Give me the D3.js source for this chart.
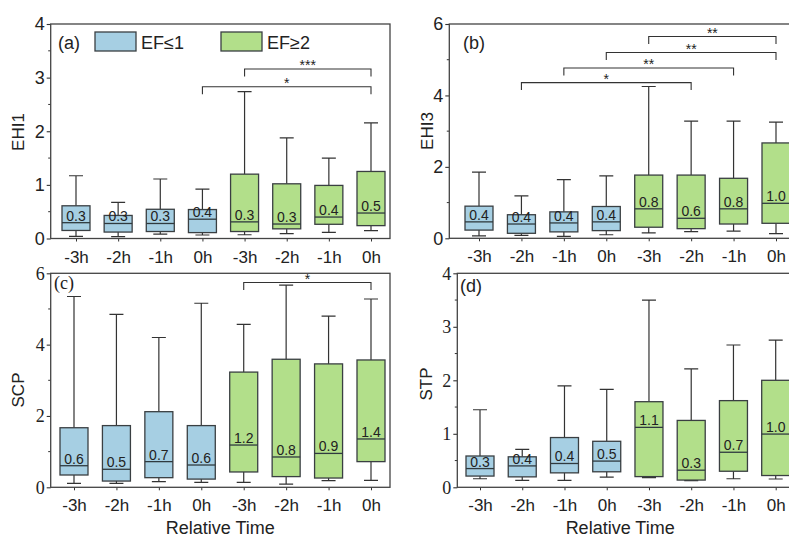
<!DOCTYPE html>
<html>
<head>
<meta charset="utf-8">
<script src="https://cdn.jsdelivr.net/npm/d3@7"></script>
<style>
  body { margin: 0; background: #fff; }
  svg { display: block; }
</style>
</head>
<body>
<svg id="chart"></svg>
<script>
// categories along the x axis, first four EF<=1, last four EF>=2
const categories = ["-3h", "-2h", "-1h", "0h", "-3h", "-2h", "-1h", "0h"];
const groupNames = ["EF≤1", "EF≥2"];
const groupOf = [0, 0, 0, 0, 1, 1, 1, 1];

// box stats per category: [low whisker, q1, median, q3, high whisker]
const ehi1Stats = [
  [0.04, 0.15, 0.295, 0.61, 1.17],
  [0.035, 0.12, 0.28, 0.43, 0.675],
  [0.08, 0.13, 0.28, 0.545, 1.11],
  [0.065, 0.11, 0.36, 0.54, 0.92],
  [0.07, 0.13, 0.31, 1.20, 2.74],
  [0.09, 0.18, 0.27, 1.02, 1.875],
  [0.115, 0.265, 0.40, 0.99, 1.50],
  [0.145, 0.24, 0.475, 1.25, 2.155]
];
const ehi1Labels = ["0.3", "0.3", "0.3", "0.4", "0.3", "0.3", "0.4", "0.5"];
// significance brackets: [from, to, level, mark]
const ehi1Sig = [[4, 7, 3.16, "***"], [3, 7, 2.83, "*"]];

const ehi3Stats = [
  [0.07, 0.23, 0.46, 0.90, 1.85],
  [0.08, 0.14, 0.40, 0.66, 1.19],
  [0.055, 0.18, 0.43, 0.74, 1.64],
  [0.10, 0.215, 0.46, 0.89, 1.75],
  [0.15, 0.31, 0.825, 1.77, 4.25],
  [0.185, 0.27, 0.56, 1.77, 3.28],
  [0.20, 0.40, 0.825, 1.68, 3.28],
  [0.13, 0.42, 0.98, 2.67, 3.25]
];
const ehi3Labels = ["0.4", "0.4", "0.4", "0.4", "0.8", "0.6", "0.8", "1.0"];
const ehi3Sig = [[4, 7, 5.65, "**"], [3, 7, 5.20, "**"], [2, 6, 4.77, "**"], [1, 5, 4.36, "*"]];

const scpStats = [
  [0.11, 0.345, 0.605, 1.67, 5.35],
  [0.11, 0.175, 0.505, 1.73, 4.85],
  [0.16, 0.27, 0.72, 2.12, 4.2],
  [0.14, 0.23, 0.625, 1.73, 5.16],
  [0.14, 0.43, 1.185, 3.23, 4.57],
  [0.09, 0.30, 0.85, 3.59, 5.67],
  [0.185, 0.26, 0.95, 3.46, 4.8],
  [0.195, 0.72, 1.355, 3.57, 5.28]
];
const scpLabels = ["0.6", "0.5", "0.7", "0.6", "1.2", "0.8", "0.9", "1.4"];
const scpSig = [[4, 7, 5.74, "*"]];

const stpStats = [
  [0.16, 0.21, 0.35, 0.585, 1.45],
  [0.13, 0.195, 0.40, 0.57, 0.71],
  [0.13, 0.27, 0.445, 0.93, 1.895],
  [0.19, 0.29, 0.49, 0.86, 1.83],
  [0.18, 0.20, 1.12, 1.60, 3.5],
  [0.125, 0.135, 0.32, 1.25, 2.215],
  [0.16, 0.30, 0.655, 1.62, 2.66],
  [0.155, 0.22, 0.995, 2.0, 2.75]
];
const stpLabels = ["0.3", "0.4", "0.4", "0.5", "1.1", "0.3", "0.7", "1.0"];
const stpSig = [];

const width = 789, height = 537;
const colors = ["#a6cfe3", "#b2df8a"];
const ink = "#333";
const sans = "'Liberation Sans', Arial, sans-serif";
const serif = "'Liberation Serif', 'Times New Roman', serif";

const panels = [
  { tag: "(a)", title: "EHI1", stats: ehi1Stats, labels: ehi1Labels, sig: ehi1Sig,
    yMax: 4, yStep: 1, minor: 0.5, left: 50.7, right: 390, top: 24, bottom: 238.5,
    c0: 76, c7: 371, yFont: sans, tagFont: sans, titleX: 23.5, titleY: 132, tagX: 58, tagY: 49, xTitle: false },
  { tag: "(b)", title: "EHI3", stats: ehi3Stats, labels: ehi3Labels, sig: ehi3Sig,
    yMax: 6, yStep: 2, minor: 1, left: 449.3, right: 805, top: 24, bottom: 238.3,
    c0: 479, c7: 776, yFont: sans, tagFont: sans, titleX: 432.5, titleY: 131, tagX: 463, tagY: 49, xTitle: false },
  { tag: "(c)", title: "SCP", stats: scpStats, labels: scpLabels, sig: scpSig,
    yMax: 6, yStep: 2, minor: 1, left: 50.7, right: 390, top: 273.3, bottom: 487.3,
    c0: 74, c7: 371, yFont: serif, tagFont: serif, titleX: 23.5, titleY: 390, tagX: 54, tagY: 289, xTitle: true },
  { tag: "(d)", title: "STP", stats: stpStats, labels: stpLabels, sig: stpSig,
    yMax: 4, yStep: 1, minor: 0.5, left: 457.3, right: 805, top: 273.3, bottom: 487.3,
    c0: 480, c7: 775.7, yFont: serif, tagFont: sans, titleX: 432, titleY: 384, tagX: 460, tagY: 292, xTitle: true }
];

const svg = d3.select("#chart")
    .attr("width", width)
    .attr("height", height)
    .attr("viewBox", [0, 0, width, height]);

function drawPanel(p) {
  const x = d3.scaleLinear().domain([0, 7]).range([p.c0, p.c7]);
  const y = d3.scaleLinear().domain([0, p.yMax]).range([p.bottom, p.top]);
  const g = svg.append("g");

  // y axis with major ticks
  const yAxis = d3.axisLeft(y)
      .tickValues(d3.range(0, p.yMax + 0.001, p.yStep))
      .tickFormat(d3.format("d"))
      .tickSize(4)
      .tickPadding(2);
  g.append("g")
      .attr("transform", `translate(${p.left},0)`)
      .call(yAxis)
      .call(a => a.select(".domain").remove())
      .call(a => a.selectAll(".tick line").attr("stroke", ink).attr("stroke-width", 1.1))
      .call(a => a.selectAll("text")
          .attr("font-family", p.yFont)
          .attr("font-size", 18)
          .attr("fill", "#222"));

  // minor ticks
  g.append("g")
    .selectAll("line")
    .data(d3.range(p.minor, p.yMax, p.yStep))
    .join("line")
      .attr("x1", p.left - 2.5)
      .attr("x2", p.left)
      .attr("y1", d => y(d))
      .attr("y2", d => y(d))
      .attr("stroke", ink)
      .attr("stroke-width", 1);

  // x axis
  const xAxis = d3.axisBottom(x)
      .tickValues(d3.range(categories.length))
      .tickFormat(i => categories[i])
      .tickSize(3);
  g.append("g")
      .attr("transform", `translate(0,${p.bottom})`)
      .call(xAxis)
      .call(a => a.select(".domain").remove())
      .call(a => a.selectAll(".tick line").attr("stroke", ink))
      .call(a => a.selectAll("text")
          .attr("y", 12)
          .attr("dy", "0.71em")
          .attr("font-family", sans)
          .attr("font-size", 17)
          .attr("fill", "#222"));

  // frame
  g.append("rect")
      .attr("x", p.left)
      .attr("y", p.top)
      .attr("width", p.right - p.left)
      .attr("height", p.bottom - p.top)
      .attr("fill", "none")
      .attr("stroke", "#444")
      .attr("stroke-width", 1.3);

  const boxW = 28, capW = 14;
  const boxes = g.append("g")
    .selectAll("g")
    .data(p.stats)
    .join("g");

  // whiskers
  boxes.append("path")
      .attr("fill", "none")
      .attr("stroke", ink)
      .attr("stroke-width", 1.2)
      .attr("d", (d, i) => {
        const cx = x(i);
        return `M${cx},${y(d[4])}V${y(d[3])}M${cx},${y(d[1])}V${y(d[0])}` +
          `M${cx - capW / 2},${y(d[4])}H${cx + capW / 2}` +
          `M${cx - capW / 2},${y(d[0])}H${cx + capW / 2}`;
      });

  boxes.append("rect")
      .attr("x", (d, i) => x(i) - boxW / 2)
      .attr("width", boxW)
      .attr("y", d => y(d[3]))
      .attr("height", d => y(d[1]) - y(d[3]))
      .attr("fill", (d, i) => colors[groupOf[i]])
      .attr("stroke", "#3a3f42")
      .attr("stroke-width", 1.3);

  boxes.append("line")
      .attr("x1", (d, i) => x(i) - boxW / 2)
      .attr("x2", (d, i) => x(i) + boxW / 2)
      .attr("y1", d => y(d[2]))
      .attr("y2", d => y(d[2]))
      .attr("stroke", "#2f3a3f")
      .attr("stroke-width", 1.3);

  boxes.append("text")
      .attr("x", (d, i) => x(i))
      .attr("y", d => y(d[2]) - 2)
      .attr("text-anchor", "middle")
      .attr("font-family", sans)
      .attr("font-size", 14)
      .attr("fill", "#222")
      .text((d, i) => p.labels[i]);

  // significance brackets
  const legH = 7.5;
  const sig = g.append("g")
    .selectAll("g")
    .data(p.sig)
    .join("g");
  sig.append("path")
      .attr("fill", "none")
      .attr("stroke", ink)
      .attr("stroke-width", 1.1)
      .attr("d", d => `M${x(d[0])},${y(d[2]) + legH}V${y(d[2])}H${x(d[1])}V${y(d[2]) + legH}`);
  sig.append("text")
      .attr("x", d => (x(d[0]) + x(d[1])) / 2)
      .attr("y", d => y(d[2]) + 1)
      .attr("text-anchor", "middle")
      .attr("font-family", sans)
      .attr("font-size", 14)
      .attr("fill", "#222")
      .text(d => d[3]);

  // panel tag
  g.append("text")
      .attr("x", p.tagX)
      .attr("y", p.tagY)
      .attr("font-family", p.tagFont)
      .attr("font-size", 18)
      .attr("fill", "#222")
      .text(p.tag);

  // y title
  g.append("text")
      .attr("transform", `translate(${p.titleX},${p.titleY}) rotate(-90)`)
      .attr("text-anchor", "middle")
      .attr("font-family", sans)
      .attr("font-size", 17)
      .attr("fill", "#222")
      .text(p.title);

  if (p.xTitle) {
    g.append("text")
        .attr("x", (p.left + Math.min(p.right, 783)) / 2 + (p.left > 400 ? 0 : 0))
        .attr("y", 534)
        .attr("text-anchor", "middle")
        .attr("font-family", sans)
        .attr("font-size", 18)
        .attr("fill", "#222")
        .text("Relative Time");
  }
}

panels.forEach(drawPanel);

// legend in panel (a)
const legend = svg.append("g")
  .selectAll("g")
  .data(groupNames)
  .join("g")
    .attr("transform", (d, i) => `translate(${95 + i * 126},32)`);
legend.append("rect")
    .attr("width", 41)
    .attr("height", 19)
    .attr("fill", (d, i) => colors[i])
    .attr("stroke", "#3a3f42")
    .attr("stroke-width", 1.3);
legend.append("text")
    .attr("x", 46)
    .attr("y", 17)
    .attr("font-family", sans)
    .attr("font-size", 18)
    .attr("fill", "#222")
    .text(d => d);
</script>
</body>
</html>
